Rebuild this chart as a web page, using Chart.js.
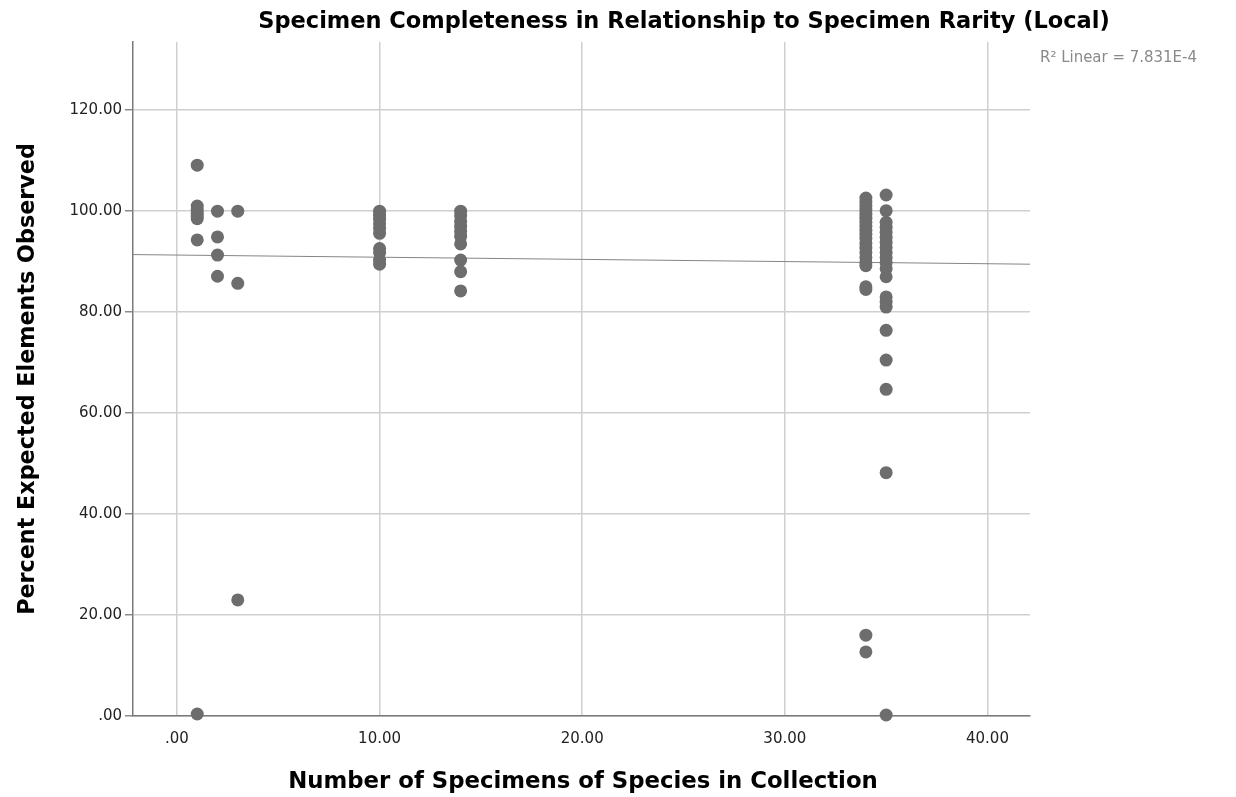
<!DOCTYPE html>
<html>
<head>
<meta charset="utf-8">
<script src="https://cdn.jsdelivr.net/npm/chart.js@4"></script>
<style>
  html, body { margin: 0; padding: 0; background: #fff; overflow: hidden; }
  canvas { display: block; }
</style>
</head>
<body>
<canvas id="scatterChart" width="1236" height="797"></canvas>
<script>
// specimen counts (x) and percent of expected elements observed (y) per count
let countLevels = [1, 2, 3, 10, 14, 34, 35];
let pctAt1 = [109.1, 101, 100.3, 99.6, 99, 98.5, 94.3, 0.4];
let pctAt2 = [100, 94.9, 91.3, 87.1];
let pctAt3 = [100, 85.7, 23];
let pctAt10 = [100, 99.2, 98.4, 97.5, 96.6, 95.6, 92.6, 91.8, 90.3, 89.5];
let pctAt14 = [100, 99.1, 98, 97, 96, 95, 93.5, 90.3, 88, 84.2];
let pctAt34 = [102.6, 101.8, 101, 100.2, 99.4, 98.6, 97.8, 97, 96.2, 95.4, 94.6, 93.6, 92.7, 91.8, 90.8, 89.8, 89.2, 85, 84.5, 16, 12.7];
let pctAt35 = [103.2, 100.1, 97.8, 96.8, 95.8, 94.8, 93.8, 92.8, 91.8, 90.8, 89.8, 88.6, 87, 83, 82, 81, 76.4, 70.5, 64.7, 48.2, 0.2];

let xTicks = [0, 10, 20, 30, 40];
let yTicks = [0, 20, 40, 60, 80, 100, 120];
let xMin = -2.17, xMax = 42.1;
let yMin = 0, yMax = 133.5;

// linear fit shown in the reference
let fitIntercept = 91.3;
let fitSlope = -0.043;
let fitLabel = "R\u00B2 Linear = 7.831E-4";

let chartTitle = "Specimen Completeness in Relationship to Specimen Rarity (Local)";
let xTitle = "Number of Specimens of Species in Collection";
let yTitle = "Percent Expected Elements Observed";

let groups = [pctAt1, pctAt2, pctAt3, pctAt10, pctAt14, pctAt34, pctAt35];
let points = [];
for (let i = 0; i < countLevels.length; i++) {
    for (let j = 0; j < groups[i].length; j++) {
        points.push({x: countLevels[i], y: groups[i][j]});
    }
}
let fitLine = [
    {x: xMin, y: fitIntercept + fitSlope * xMin},
    {x: xMax, y: fitIntercept + fitSlope * xMax}
];

function fmtTick(v) {
    return v === 0 ? ".00" : v.toFixed(2);
}

function fitText(ctx, text, weight, family, width) {
    ctx.font = weight + " 20px " + family;
    let w = ctx.measureText(text).width;
    let size = 20 * width / w;
    ctx.font = weight + " " + size + "px " + family;
}

let textPlugin = {
    id: "textPlugin",
    afterDraw(chart) {
        let ctx = chart.ctx;
        ctx.save();
        ctx.fillStyle = "#000";
        ctx.textAlign = "center";
        ctx.textBaseline = "middle";
        fitText(ctx, chartTitle, "bold", "'DejaVu Sans'", 852);
        ctx.fillText(chartTitle, 684, 22);
        fitText(ctx, xTitle, "bold", "'DejaVu Sans'", 590);
        ctx.fillText(xTitle, 583, 782);
        ctx.translate(28, 379);
        ctx.rotate(-Math.PI / 2);
        fitText(ctx, yTitle, "bold", "'DejaVu Sans'", 472);
        ctx.fillText(yTitle, 0, 0);
        ctx.restore();

        ctx.save();
        ctx.fillStyle = "#8a8a8a";
        ctx.textAlign = "left";
        ctx.textBaseline = "middle";
        fitText(ctx, fitLabel, "normal", "'DejaVu Sans'", 157);
        ctx.fillText(fitLabel, 1040, 58);
        ctx.restore();
    }
};

let canvas = document.getElementById("scatterChart");
let scatterChart = new Chart(canvas, {
    type: "scatter",
    data: {
        datasets: [
            {
                type: "line",
                label: "fit",
                data: fitLine,
                borderColor: "#858585",
                borderWidth: 1,
                pointRadius: 0,
                order: 2
            },
            {
                label: "specimens",
                data: points,
                backgroundColor: "#6d6d6d",
                borderWidth: 0,
                pointRadius: 6.5,
                pointHoverRadius: 6.5,
                clip: false,
                order: 1
            }
        ]
    },
    options: {
        responsive: false,
        animation: false,
        devicePixelRatio: 1,
        layout: {
            padding: {top: 42, right: 206, left: 0, bottom: 0}
        },
        plugins: {
            legend: {display: false},
            title: {display: false},
            tooltip: {enabled: false}
        },
        scales: {
            x: {
                type: "linear",
                min: xMin,
                max: xMax,
                afterBuildTicks: function (scale) {
                    scale.ticks = xTicks.map(v => ({value: v}));
                },
                afterFit: function (scale) {
                    scale.height = 81;
                },
                ticks: {
                    callback: fmtTick,
                    color: "#222",
                    padding: 14,
                    maxRotation: 0,
                    font: {family: "'DejaVu Sans'", size: 15}
                },
                grid: {
                    color: "#cfcfcf",
                    lineWidth: 1.5,
                    drawTicks: false
                },
                border: {color: "#7a7a7a", width: 1.5}
            },
            y: {
                type: "linear",
                min: yMin,
                max: yMax,
                afterBuildTicks: function (scale) {
                    scale.ticks = yTicks.map(v => ({value: v}));
                },
                afterFit: function (scale) {
                    scale.width = 133;
                },
                ticks: {
                    callback: fmtTick,
                    color: "#222",
                    padding: 3,
                    font: {family: "'DejaVu Sans'", size: 15}
                },
                grid: {
                    color: "#cfcfcf",
                    lineWidth: 1.5,
                    tickLength: 8,
                    tickColor: "#8a8a8a"
                },
                border: {color: "#7a7a7a", width: 1.5}
            }
        }
    },
    plugins: [textPlugin]
});
</script>
</body>
</html>
